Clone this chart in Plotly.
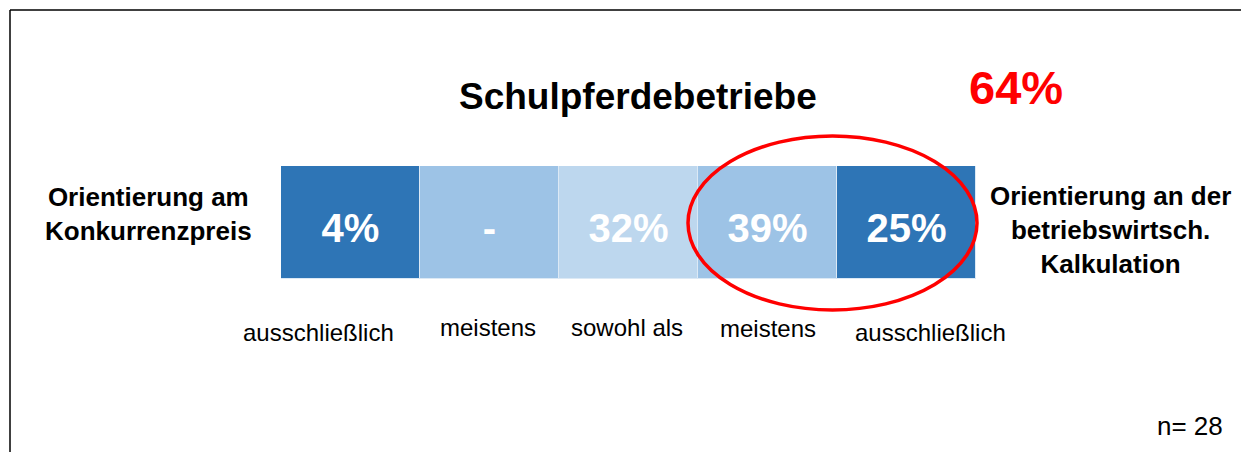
import plotly.graph_objects as go

W, H = 1241, 452

# data
categories = ['ausschließlich', 'meistens', 'sowohl als', 'meistens ', 'ausschließlich ']
shares = [4, None, 32, 39, 25]          # percent, None = no answer
bar_colors = ['#2E75B6', '#9DC3E6', '#BDD7EE', '#9DC3E6', '#2E75B6']
highlight = 64                            # meistens + ausschließlich (right side)
n_total = 28

left_label = 'Orientierung am<br>Konkurrenzpreis'
right_label = 'Orientierung an der<br>betriebswirtsch.<br>Kalkulation'
title = 'Schulpferdebetriebe'

FONT = 'Liberation Sans, Arial, sans-serif'


def px(x):
    return x / W


def py(y):
    return 1 - y / H


labels = [f'{v}%' if v is not None else '-' for v in shares]
xs = list(range(len(categories)))

fig = go.Figure()
fig.add_trace(go.Bar(
    x=xs,
    y=[1] * len(categories),
    marker=dict(color=bar_colors, line=dict(color='#DCE9F5', width=1)),
    hoverinfo='skip',
))
# value labels, a touch below the box middle as in the original
fig.add_trace(go.Scatter(
    x=xs, y=[0.42] * len(categories), mode='text', text=labels,
    textposition='middle center',
    textfont=dict(family=FONT, size=40, color='white', weight='bold'),
    hoverinfo='skip',
))

fig.update_layout(
    width=W, height=H,
    margin=dict(l=0, r=0, t=0, b=0),
    paper_bgcolor='white', plot_bgcolor='white',
    bargap=0,
    showlegend=False,
    xaxis=dict(domain=[px(281), px(976)], range=[-0.5, 4.5], visible=False, fixedrange=True),
    yaxis=dict(domain=[py(279), py(166)], range=[0, 1], visible=False, fixedrange=True),
)

# bottom labels (not centred under the boxes in the original)
label_pos = [(318, 332), (488, 327), (627, 327), (768, 328), (930, 332)]
for cat, (lx, ly) in zip(categories, label_pos):
    fig.add_annotation(x=px(lx), y=py(ly), xref='paper', yref='paper', text=cat.strip(),
                       showarrow=False, xanchor='center', yanchor='middle',
                       font=dict(family=FONT, size=24, color='black'))

fig.add_annotation(x=px(638), y=py(97), xref='paper', yref='paper', text=f'<b>{title}</b>',
                   showarrow=False, xanchor='center', yanchor='middle',
                   font=dict(family=FONT, size=37, color='black'))
fig.add_annotation(x=px(1016), y=py(88), xref='paper', yref='paper', text=f'<b>{highlight}%</b>',
                   showarrow=False, xanchor='center', yanchor='middle',
                   font=dict(family=FONT, size=47, color='#FF0000'))
fig.add_annotation(x=px(148), y=py(214), xref='paper', yref='paper', text=f'<b>{left_label}</b>',
                   showarrow=False, xanchor='center', yanchor='middle', align='center',
                   font=dict(family=FONT, size=26, color='black'))
fig.add_annotation(x=px(1110), y=py(230), xref='paper', yref='paper', text=f'<b>{right_label}</b>',
                   showarrow=False, xanchor='center', yanchor='middle', align='center',
                   font=dict(family=FONT, size=26, color='black'))
fig.add_annotation(x=px(1190), y=py(426), xref='paper', yref='paper', text=f'n= {n_total}',
                   showarrow=False, xanchor='center', yanchor='middle',
                   font=dict(family=FONT, size=26, color='black'))

# red ellipse around the right two boxes
fig.add_shape(type='circle', xref='paper', yref='paper',
              x0=px(688), x1=px(977), y0=py(310), y1=py(136),
              line=dict(color='#FF0000', width=3.5))

# frame lines (top and left)
fig.add_shape(type='line', xref='paper', yref='paper',
              x0=px(10), x1=1, y0=py(10), y1=py(10), line=dict(color='black', width=1.5))
fig.add_shape(type='line', xref='paper', yref='paper',
              x0=px(10), x1=px(10), y0=py(10), y1=0, line=dict(color='black', width=1.5))

fig.write_html('out.html', config={'displayModeBar': False},
               post_script="document.body.style.margin='0';document.body.style.overflow='hidden';")
